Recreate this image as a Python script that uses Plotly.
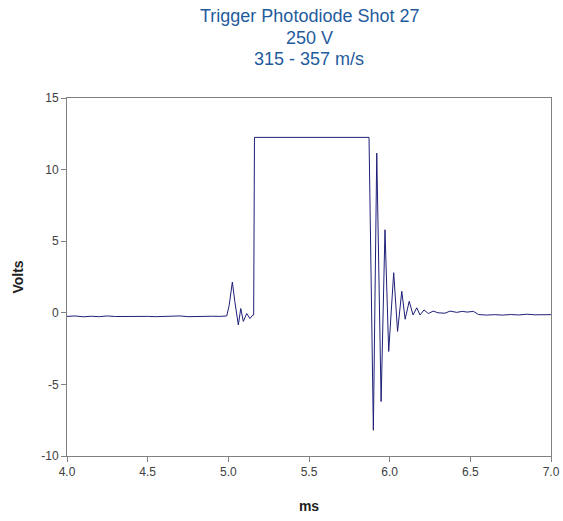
import plotly.graph_objects as go

# Time (ms) and voltage (V)
time_ms = [
    4.00, 4.05, 4.10, 4.15, 4.20, 4.25, 4.30, 4.35, 4.40, 4.45,
    4.50, 4.55, 4.60, 4.65, 4.70, 4.75, 4.80, 4.85, 4.90, 4.95,
    4.99, 5.005, 5.025, 5.04, 5.062, 5.077, 5.093, 5.114, 5.134, 5.152,
    5.157, 5.162, 5.872, 5.899, 5.920, 5.947, 5.971, 5.994, 6.025, 6.049,
    6.075, 6.096, 6.121, 6.145, 6.168, 6.188, 6.213, 6.240, 6.270, 6.300,
    6.343, 6.374, 6.416, 6.450, 6.480, 6.520, 6.550, 6.600, 6.650, 6.700,
    6.750, 6.800, 6.850, 6.900, 6.950, 7.000,
]
volts = [
    -0.25, -0.22, -0.28, -0.24, -0.27, -0.22, -0.26, -0.25, -0.28, -0.23,
    -0.25, -0.27, -0.24, -0.26, -0.22, -0.27, -0.25, -0.28, -0.24, -0.25,
    -0.22, 0.50, 2.15, 0.80, -0.85, 0.30, -0.60, -0.05, -0.40, -0.15,
    -0.15, 12.25, 12.25, -8.20, 11.15, -6.20, 5.80, -2.70, 2.80, -1.30,
    1.50, -0.45, 0.80, -0.15, 0.35, -0.15, 0.20, -0.05, 0.12, 0.00,
    -0.03, 0.12, 0.03, 0.10, 0.05, 0.10, -0.12, -0.16, -0.13, -0.16,
    -0.12, -0.15, -0.10, -0.14, -0.13, -0.13,
]

title_lines = ["Trigger Photodiode Shot 27", "250 V", "315 - 357 m/s"]
title_line_y = [1.229, 1.1676, 1.109]

x_ticks = [4.0, 4.5, 5.0, 5.5, 6.0, 6.5, 7.0]
x_tick_labels = ["4.0", "4.5", "5.0", "5.5", "6.0", "6.5", "7.0"]
y_ticks = [-10, -5, 0, 5, 10, 15]
y_tick_labels = ["-10", "-5", "0", "5", "10", "15"]

FONT = "Liberation Sans, Arial, sans-serif"

fig = go.Figure()
fig.add_trace(go.Scatter(
    x=time_ms, y=volts, mode="lines",
    line=dict(color="#1f1f78", width=1),
    showlegend=False, hoverinfo="x+y",
))

for text, ty in zip(title_lines, title_line_y):
    fig.add_annotation(
        text=text, x=0.5, y=ty, xref="paper", yref="paper",
        xanchor="center", yanchor="middle", showarrow=False,
        font=dict(family=FONT, size=18, color="#1f5c9e"),
    )

axis_common = dict(
    showgrid=False, zeroline=False, showline=True, linecolor="#808080",
    linewidth=1, mirror=True, ticks="outside", ticklen=5, tickcolor="#808080",
    automargin=False,
    tickfont=dict(family=FONT, size=12, color="#404040"),
)

fig.update_layout(
    width=563, height=521,
    margin=dict(l=67, r=12, t=98, b=65),
    paper_bgcolor="white", plot_bgcolor="white",
    xaxis=dict(
        range=[4.0, 7.0], tickvals=x_ticks, ticktext=x_tick_labels,
        title=dict(text="<b>ms</b>", standoff=22,
                   font=dict(family=FONT, size=14, color="#222222")),
        **axis_common,
    ),
    yaxis=dict(
        range=[-10, 15], tickvals=y_ticks, ticktext=y_tick_labels,
        title=dict(text="<b>Volts</b>", standoff=14,
                   font=dict(family=FONT, size=14, color="#222222")),
        **axis_common,
    ),
)

fig.write_html("out.html", config={"displayModeBar": False},
               post_script="document.body.style.margin='0px';")
